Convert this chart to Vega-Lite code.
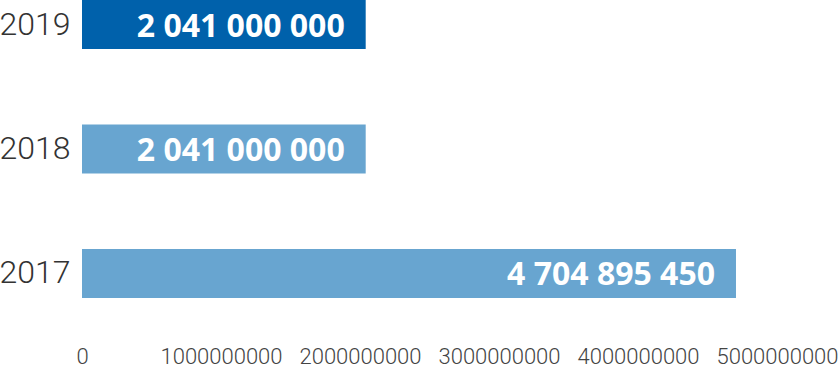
{
  "$schema": "https://vega.github.io/schema/vega-lite/v6.json",
  "width": 695,
  "height": 298,
  "autosize": {"type": "none"},
  "padding": {"left": 82, "top": 0, "right": 62, "bottom": 68},
  "background": "white",
  "config": {
    "view": {"stroke": null},
    "locale": {"number": {"decimal": ",", "thousands": " ", "grouping": [3], "currency": ["", ""]}}
  },
  "data": {
    "values": [
      {"year": "2019", "value": 2041000000},
      {"year": "2018", "value": 2041000000},
      {"year": "2017", "value": 4704895450}
    ]
  },
  "encoding": {
    "y": {
      "field": "year",
      "type": "nominal",
      "sort": ["2019", "2018", "2017"],
      "scale": {"paddingInner": 0.606, "paddingOuter": 0},
      "axis": {
        "title": null,
        "domain": false,
        "ticks": false,
        "labelFont": "Roboto",
        "labelFontWeight": 300,
        "labelFontSize": 32,
        "labelColor": "#333333",
        "labelPadding": 12
      }
    },
    "x": {
      "field": "value",
      "type": "quantitative",
      "scale": {"domain": [0, 5000000000], "nice": false},
      "axis": {
        "title": null,
        "domain": false,
        "ticks": false,
        "grid": false,
        "values": [0, 1000000000, 2000000000, 3000000000, 4000000000, 5000000000],
        "format": "d",
        "labelOverlap": false,
        "labelBound": false,
        "labelFlush": false,
        "labelFont": "Roboto",
        "labelFontWeight": 300,
        "labelFontSize": 22,
        "labelColor": "#444444",
        "labelBaseline": "middle",
        "labelPadding": 58
      }
    }
  },
  "layer": [
    {
      "mark": {"type": "bar"},
      "encoding": {
        "color": {
          "field": "year",
          "type": "nominal",
          "scale": {"domain": ["2019", "2018", "2017"], "range": ["#0061ab", "#68a5d0", "#68a5d0"]},
          "legend": null
        }
      }
    },
    {
      "mark": {
        "type": "text",
        "align": "right",
        "baseline": "middle",
        "dx": -21,
        "dy": 2,
        "font": "Open Sans",
        "fontWeight": "bold",
        "fontSize": 32,
        "color": "white"
      },
      "encoding": {
        "text": {"field": "value", "type": "quantitative", "format": ",d"}
      }
    }
  ]
}
